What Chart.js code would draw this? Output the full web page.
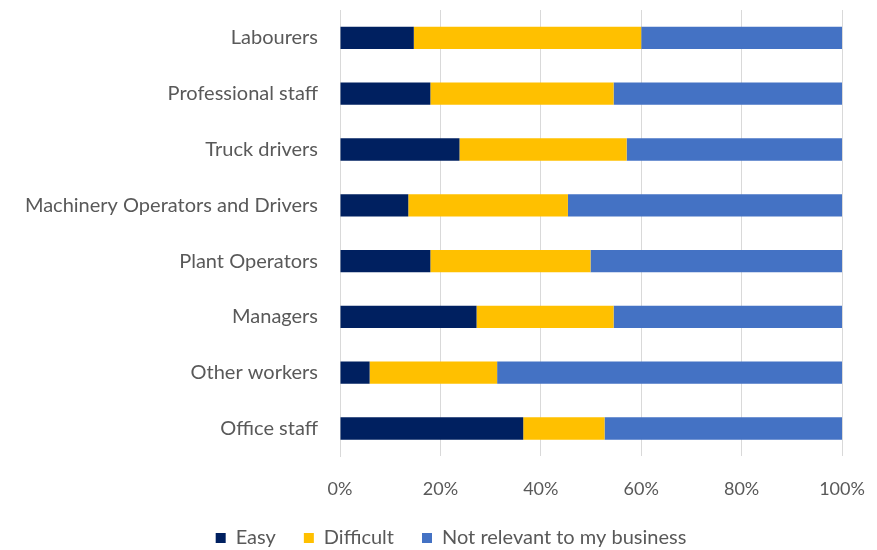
<!DOCTYPE html>
<html>
<head>
<meta charset="utf-8">
<script src="https://cdn.jsdelivr.net/npm/chart.js@4.4.1/dist/chart.umd.min.js"></script>
<style>
  html, body { margin: 0; padding: 0; background: #fff; }
  #wrap { width: 877px; height: 550px; }
</style>
</head>
<body>
<div id="wrap"><canvas id="chart"></canvas></div>
<script>
// Categorias e percentuais (cada linha soma 100%)
const categories = [
  'Labourers',
  'Professional staff',
  'Truck drivers',
  'Machinery Operators and Drivers',
  'Plant Operators',
  'Managers',
  'Other workers',
  'Office staff'
];
const easy        = [14.7, 18.0, 23.8, 13.6, 18.0, 27.2,  5.9, 36.5];
const difficult   = [45.3, 36.5, 33.3, 31.8, 31.9, 27.3, 25.4, 16.2];
const notRelevant = [40.0, 45.5, 42.9, 54.6, 50.1, 45.5, 68.7, 47.3];
const tickValues  = [0, 20, 40, 60, 80, 100];

const textColor = '#595959';
const fontFamily = 'Lato, "Open Sans", sans-serif';

// Desloca a legenda um pouco para a direita
const legendShift = {
  id: 'legendShift',
  afterLayout(chart) {
    chart.legend.left += 30;
    chart.legend.right += 30;
  }
};

new Chart(document.getElementById('chart'), {
  type: 'bar',
  data: {
    labels: categories,
    datasets: [
      { label: 'Easy', data: easy, backgroundColor: '#002060' },
      { label: 'Difficult', data: difficult, backgroundColor: '#FFC000' },
      { label: 'Not relevant to my business', data: notRelevant, backgroundColor: '#4472C4' }
    ]
  },
  plugins: [legendShift],
  options: {
    indexAxis: 'y',
    responsive: true,
    maintainAspectRatio: false,
    animation: false,
    datasets: { bar: { barPercentage: 0.8, categoryPercentage: 0.5 } },
    layout: { padding: { top: 10, right: 35, left: 0, bottom: -8 } },
    scales: {
      x: {
        stacked: true,
        min: 0,
        max: 100,
        afterBuildTicks: axis => { axis.ticks = tickValues.map(v => ({ value: v })); },
        grid: { color: '#d9d9d9', tickLength: 22, tickColor: 'transparent' },
        border: { display: false },
        ticks: {
          padding: 0,
          color: textColor,
          font: { family: fontFamily, size: 18 },
          callback: v => v + '%'
        }
      },
      y: {
        stacked: true,
        afterFit: axis => { axis.width = 340; },
        grid: { display: false, tickLength: 22 },
        border: { color: '#d9d9d9' },
        ticks: {
          padding: 0,
          color: textColor,
          font: { family: fontFamily, size: 20, lineHeight: 1 }
        }
      }
    },
    plugins: {
      legend: {
        position: 'bottom',
        labels: {
          boxWidth: 10,
          boxHeight: 10,
          padding: 28,
          color: textColor,
          font: { family: fontFamily, size: 20 }
        }
      },
      tooltip: { enabled: false }
    }
  }
});
</script>
</body>
</html>
